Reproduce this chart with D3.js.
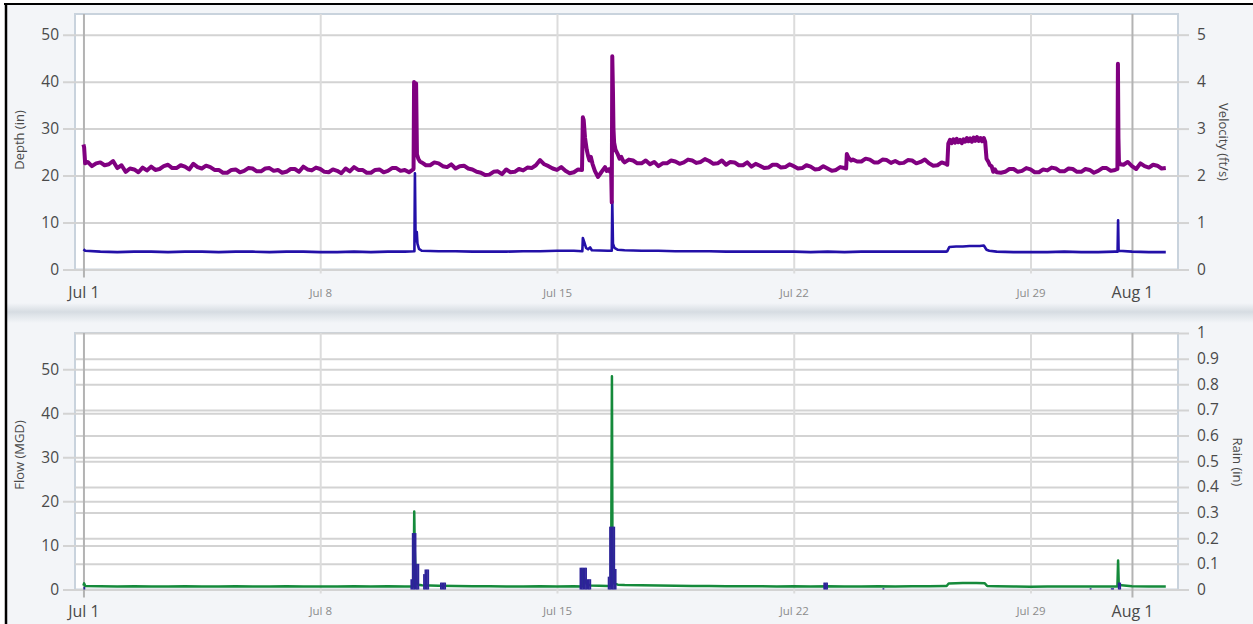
<!DOCTYPE html>
<html><head><meta charset="utf-8">
<script src="https://cdn.jsdelivr.net/npm/d3@7"></script>
<style>body{margin:0;background:#fff;} svg{display:block;font-family:"Open Sans",sans-serif;}</style>
</head><body><svg id="c" width="1253" height="624"></svg>
<script>
// ---------------- DATA ----------------
// time offsets are in days from Jul 1 00:00
const xTickLabels = ["Jul 1","Jul 8","Jul 15","Jul 22","Jul 29","Aug 1"];
const xTickDays = [0, 7, 14, 21, 28, 31];
const depthTicks = [0,10,20,30,40,50];
const velocityTicks = [0,1,2,3,4,5];
const flowTicks = [0,10,20,30,40,50];
const rainTicks = [0,0.1,0.2,0.3,0.4,0.5,0.6,0.7,0.8,0.9,1];

// Depth (in), 3-hour readings Jul 1 00:00 .. Aug 2 00:00 (one row per day)
const depthBase = [
 22.3,22.9,22.0,22.6,22.8,22.2,22.4,23.1,
 21.6,22.2,20.8,21.5,21.3,20.7,21.7,21.1,
 21.9,21.2,21.4,22.0,22.3,21.6,21.6,22.2,
 21.9,21.3,22.5,21.8,21.5,22.1,21.8,21.2,
 21.2,20.6,20.6,21.2,21.3,20.7,21.0,21.6,
 21.5,20.9,20.9,21.5,21.6,21.0,21.2,20.6,
 20.8,21.4,21.4,20.8,21.9,21.3,21.1,21.7,
 21.4,20.8,20.7,21.3,21.0,20.5,21.5,20.9,
 21.8,21.2,21.2,20.6,20.6,21.2,21.3,20.7,
 21.0,21.6,21.6,21.0,21.2,20.7,21.3,21.5,
 22.8,22.2,22.2,22.8,22.6,22.0,21.8,22.4,
 21.5,22.0,22.1,21.5,21.3,20.8,20.6,20.1,
 20.2,20.8,20.9,20.3,21.3,20.7,20.8,21.4,
 21.1,21.7,21.6,22.2,23.3,22.4,22.0,21.5,
 21.2,21.8,21.0,20.5,20.7,21.3,21.2,21.0,
 21.0,21.0,21.0,21.0,21.0,21.0,21.0,21.0,
 22.8,23.4,23.2,22.6,22.6,23.2,22.4,22.9,
 22.0,22.6,22.6,23.2,23.0,22.5,22.8,23.4,
 23.2,22.7,22.9,23.5,23.1,22.5,22.6,23.2,
 22.3,22.9,22.8,22.2,22.2,22.8,21.9,22.5,
 22.1,21.6,21.7,22.3,22.3,21.7,21.8,22.4,
 22.0,21.5,21.6,22.2,21.9,21.3,21.4,22.0,
 21.5,21.0,21.2,21.8,21.6,23.6,23.4,23.0,
 23.0,23.6,23.4,22.8,22.8,23.4,23.3,22.7,
 23.1,22.6,22.7,23.3,23.2,22.6,22.9,23.4,
 22.6,22.1,22.2,22.8,22.5,27.5,27.5,27.5,
 27.5,27.5,27.5,27.5,27.5,27.5,27.5,27.5,
 21.2,20.6,20.8,21.4,21.4,20.8,21.0,21.6,
 21.3,20.7,20.7,21.3,21.1,21.7,21.5,20.9,
 20.9,21.5,21.4,20.8,20.8,21.4,21.2,20.6,
 21.0,21.6,21.6,21.0,21.2,21.4,22.3,22.9,
 22.0,21.4,22.6,22.0,21.7,22.3,22.1,21.5,
 21.6];
// Depth storm / step events [day, value]
const depthStart = [[0,26.6],[0.02,26.0],[0.05,22.6]];
const depthStorm1 = [[9.76,21.5],[9.775,39.9],[9.80,38.8],[9.835,39.6],[9.86,24.5],[9.9,23.6],[9.95,23.0]];
const depthStorm2 = [[14.74,21.2],[14.765,32.4],[14.79,31.8],[14.83,28.0],[14.88,25.5],[14.92,24.2],[14.96,23.2],
 [15.0,24.0],[15.05,22.5],[15.12,21.0],[15.21,19.7],[15.3,20.6],[15.36,21.2],[15.42,21.8],[15.47,21.0],[15.52,21.3],[15.57,20.8],[15.6,21.6],
 [15.62,14.3],[15.635,45.4],[15.655,38.0],[15.67,30.0],[15.69,27.0],[15.73,25.5],[15.8,24.5],[15.85,23.6],[15.9,24.0],[15.95,23.2],[16.0,22.8]];
const depthStep = [[22.55,21.5],[22.57,24.6],[22.62,23.8],[22.7,23.2]];
const depthPlateau = [[25.54,22.3],[25.57,26.8],[25.62,27.6],[25.67,26.9],[25.72,27.7],[25.77,27.0],[25.82,27.8],[25.87,27.1],
 [25.92,27.6],[25.97,26.9],[26.02,27.7],[26.07,27.2],[26.12,28.0],[26.17,27.3],[26.22,27.9],[26.27,27.2],[26.32,28.1],
 [26.37,27.4],[26.42,28.2],[26.47,27.4],[26.52,28.0],[26.57,27.3],[26.62,28.0],[26.66,27.2],[26.7,23.6],
 [26.75,23.0],[26.8,22.2],[26.85,22.0],[26.9,20.8],[26.95,21.3],[27.0,20.7]];
const depthStorm3 = [[30.57,21.4],[30.585,43.8],[30.6,28.0],[30.615,23.0],[30.65,22.4]];

// Velocity (ft/s), 12-hour readings
const velocityBase = [
 0.40,0.38,0.37,0.38,0.38,0.37,0.38,0.38,0.37,0.38,0.38,0.37,0.38,0.38,0.37,0.37,0.38,0.37,0.38,0.38,
 0.40,0.39,0.39,0.38,0.38,0.38,0.39,0.39,0.40,0.40,
 0.40,0.40,0.41,0.40,0.40,0.39,0.39,0.39,0.38,0.38,
 0.38,0.38,0.38,0.37,0.38,0.37,0.38,0.38,0.38,0.38,
 0.38,0.38,0.49,0.50,0.38,0.37,0.37,0.37,0.38,0.37,
 0.37,0.38,0.38,0.37,0.37];
const velStart = [[0,0.43],[0.05,0.40]];
const velStorm1 = [[9.785,0.39],[9.80,2.05],[9.82,0.6],[9.855,0.80],[9.875,0.55],[9.92,0.44],[9.98,0.41]];
const velStorm2 = [[14.75,0.39],[14.765,0.67],[14.8,0.6],[14.86,0.46],[14.92,0.43],[14.98,0.47],[15.03,0.41]];
const velStorm3 = [[15.62,0.40],[15.635,1.45],[15.655,0.55],[15.7,0.46],[15.8,0.42]];
const velPlateau = [[25.54,0.39],[25.6,0.48],[25.8,0.49],[26.0,0.49],[26.2,0.50],[26.5,0.50],[26.62,0.51],[26.7,0.42],[26.78,0.40]];
const velStorm4 = [[30.575,0.38],[30.59,1.05],[30.605,0.40]];

// Flow (MGD), 12-hour readings
const flowBase = [
 0.8,0.75,0.7,0.75,0.7,0.7,0.75,0.7,0.7,0.75,0.7,0.7,0.75,0.7,0.7,0.7,0.75,0.7,0.75,0.7,
 0.9,0.85,0.8,0.75,0.75,0.7,0.7,0.75,0.7,0.75,
 0.8,0.8,1.0,0.95,0.9,0.85,0.8,0.8,0.75,0.75,
 0.75,0.7,0.75,0.7,0.75,0.7,0.7,0.75,0.7,0.75,
 0.75,0.8,1.45,1.45,0.75,0.7,0.65,0.7,0.7,0.7,
 0.7,0.7,0.75,0.7,0.7];
const flowStart = [[0,0.9],[0.02,1.4],[0.05,0.8]];
const flowStorm1 = [[9.76,0.7],[9.78,17.7],[9.795,9],[9.82,4],[9.85,1.5],[9.9,1.1],[10.0,0.95]];
const flowStorm2 = [[14.74,0.7],[14.76,4.5],[14.8,2.5],[14.88,1.2],[15.0,0.9]];
const flowStorm3 = [[15.6,0.8],[15.625,48.4],[15.64,10],[15.655,3],[15.68,1.4],[15.8,1.1],[16.0,1.0]];
const flowPlateau = [[25.52,0.8],[25.58,1.35],[26.0,1.45],[26.4,1.45],[26.65,1.4],[26.72,0.8]];
const flowStorm4 = [[30.57,0.7],[30.59,6.6],[30.61,1.0]];

// Rain (in), hourly totals: hour offset from Jul 1 00:00
const rainHours = [0, 232,233,234,235,236,237, 241,242,243,244, 253,254,255,256,
 352,353,354,355,356,357,358,359, 372,373,374,375,376,377, 525,526,527, 567, 714, 729,730, 734,735];
const rainValues = [0.01, 0.04,0.22,0.22,0.22,0.10,0.10, 0.06,0.078,0.078,0.078, 0.027,0.027,0.027,0.027,
 0.085,0.085,0.085,0.085,0.085,0.04,0.04,0.04, 0.05,0.245,0.245,0.245,0.245,0.08, 0.027,0.027,0.027, 0.005, 0.005, 0.005,0.005, 0.027,0.027];

// ---------------- BUILD ----------------
const T0 = Date.UTC(2019,6,1);
const toDate = d => new Date(T0 + d*864e5);
function build(base, step, events){
  const pts = [];
  base.forEach((v,i)=>{
    const t = i*step;
    if(!events.some(e => t >= e[0][0] && t <= e[e.length-1][0])) pts.push([t,v]);
  });
  events.forEach(e => e.forEach(p => pts.push(p)));
  pts.sort((a,b)=>a[0]-b[0]);
  return pts.map(p => ({date: toDate(p[0]), v: p[1]}));
}
const depth = build(depthBase, 0.125, [depthStart, depthStorm1, depthStorm2, depthStep, depthPlateau, depthStorm3]);
const velocity = build(velocityBase, 0.5, [velStart, velStorm1, velStorm2, velStorm3, velPlateau, velStorm4]);
const flow = build(flowBase, 0.5, [flowStart, flowStorm1, flowStorm2, flowStorm3, flowPlateau, flowStorm4]);
const rain = rainHours.map((h,i)=>({start: new Date(T0 + h*36e5), end: new Date(T0 + (h+1)*36e5), v: rainValues[i]}));

// ---------------- DRAW ----------------
const svg = d3.select("#c");
const W = 1253, H = 624;
const defs = svg.append("defs");
const g1 = defs.append("linearGradient").attr("id","sep").attr("x1",0).attr("x2",0).attr("y1",0).attr("y2",1);
[[0,"#f3f5f8"],[0.45,"#d6dce2"],[0.6,"#dfe4e9"],[1,"#f3f5f8"]].forEach(s=>g1.append("stop").attr("offset",s[0]).attr("stop-color",s[1]));

svg.append("rect").attr("width",W).attr("height",H).attr("fill","#fff");
svg.append("rect").attr("x",6).attr("y",4).attr("width",W-6).attr("height",H-4).attr("fill","#f3f5f8");
svg.append("rect").attr("x",6).attr("y",303).attr("width",W-6).attr("height",20).attr("fill","url(#sep)");
svg.append("line").attr("x1",4).attr("x2",W).attr("y1",4).attr("y2",4).attr("stroke","#000").attr("stroke-width",2.2);
svg.append("line").attr("x1",6).attr("x2",6).attr("y1",3).attr("y2",H).attr("stroke","#000").attr("stroke-width",2.5);

const L = 75, R = 1178;
const x = d3.scaleUtc().domain([new Date(Date.UTC(2019,5,30,18)), new Date(Date.UTC(2019,7,2,8,40))]).range([L,R]);
const xTicks = xTickDays.map(toDate);

function panel(top, bottom, yL, yR, lTicks, rTicks, rGrid, lTitle, rTitle, lTitleY, rTitleY, rTitleX, bigBase, smallBase){
  const g = svg.append("g");
  g.append("rect").attr("x",L).attr("y",top).attr("width",R-L).attr("height",bottom-top)
    .attr("fill","#fff").attr("stroke","#c9d3dd").attr("stroke-width",2);
  const la = g.append("g").attr("transform",`translate(${L},0)`)
    .call(d3.axisLeft(yL).tickValues(lTicks).tickSize(-(R-L)).tickPadding(0).tickFormat(d3.format("d")));
  la.select(".domain").remove();
  la.selectAll(".tick line").attr("x1",-12).attr("stroke","#d3d3d3").attr("stroke-width",2);
  la.selectAll(".tick text").attr("x",-16).attr("fill","#4a4a4a").style("font-size","15.5px").style("font-family","Open Sans");
  const ra = g.append("g").attr("transform",`translate(${R},0)`)
    .call(d3.axisRight(yR).tickValues(rTicks).tickSize(rGrid ? -(R-L) : 11).tickPadding(0).tickFormat(d => String(+d.toFixed(1))));
  ra.select(".domain").remove();
  ra.selectAll(".tick line").attr("x1", rGrid ? 11 : 0).attr("stroke","#d3d3d3").attr("stroke-width",2);
  ra.selectAll(".tick text").attr("x",19).attr("fill","#4a4a4a").style("font-size","15.5px").style("font-family","Open Sans");
  const xa = g.append("g").attr("transform",`translate(0,${bottom})`)
    .call(d3.axisBottom(x).tickValues(xTicks).tickSize(-(bottom-top)).tickPadding(0).tickFormat((d,i)=>xTickLabels[i]));
  xa.select(".domain").remove();
  xa.selectAll(".tick").each(function(d,i){
    const big = xTickLabels[i].endsWith(" 1");
    const t = d3.select(this);
    t.select("line").attr("y1", big ? 8 : 4).attr("stroke", big ? "#b3b3b3" : "#dcdcdc").attr("stroke-width",2);
    t.select("text").attr("dy",null).attr("y", big ? bigBase : smallBase)
      .attr("fill", big ? "#4a4a4a" : "#8c8c8c").style("font-size", big ? "16px" : "11.5px").style("font-family","Open Sans");
  });
  g.append("text").attr("transform",`translate(24,${lTitleY}) rotate(-90)`).attr("text-anchor","middle")
    .attr("fill","#4a4a4a").style("font-size","13px").text(lTitle);
  g.append("text").attr("transform",`translate(${rTitleX},${rTitleY}) rotate(90)`).attr("text-anchor","middle")
    .attr("fill","#4a4a4a").style("font-size","13px").text(rTitle);
  return g;
}

// Top panel: depth & velocity
const yDepth = d3.scaleLinear().domain([0,54.4]).range([269.5,14]);
const yVel = d3.scaleLinear().domain([0,5.44]).range([269.5,14]);
const gTop = panel(14, 269.5, yDepth, yVel, depthTicks, velocityTicks, false, "Depth (in)", "Velocity (ft/s)", 140, 142, 1219, 28.5, 27);
gTop.append("path").datum(velocity).attr("fill","none").attr("stroke","#2310a8").attr("stroke-width",2.6)
  .attr("stroke-linejoin","round").attr("d", d3.line().x(d=>x(d.date)).y(d=>yVel(d.v)));
gTop.append("path").datum(depth).attr("fill","none").attr("stroke","#800080").attr("stroke-width",4)
  .attr("stroke-linejoin","round").attr("d", d3.line().x(d=>x(d.date)).y(d=>yDepth(d.v)));

// Bottom panel: flow & rain
const yFlow = d3.scaleLinear().domain([0,58.2]).range([589.5,333]);
const yRain = d3.scaleLinear().domain([0,1]).range([589.5,333]);
const gBot = panel(333, 589.5, yFlow, yRain, flowTicks, rainTicks, true, "Flow (MGD)", "Rain (in)", 455, 462, 1233, 27.5, 25.5);
gBot.append("path").datum(flow).attr("fill","none").attr("stroke","#158a3b").attr("stroke-width",2.5)
  .attr("stroke-linejoin","round").attr("d", d3.line().x(d=>x(d.date)).y(d=>yFlow(d.v)));
gBot.append("g").selectAll("rect").data(rain).join("rect")
  .attr("x", d=>x(d.start)).attr("width", d=>x(d.end)-x(d.start)+0.4)
  .attr("y", d=>yRain(d.v)).attr("height", d=>yRain(0)-yRain(d.v)).attr("fill","#2d2399");
</script></body></html>
